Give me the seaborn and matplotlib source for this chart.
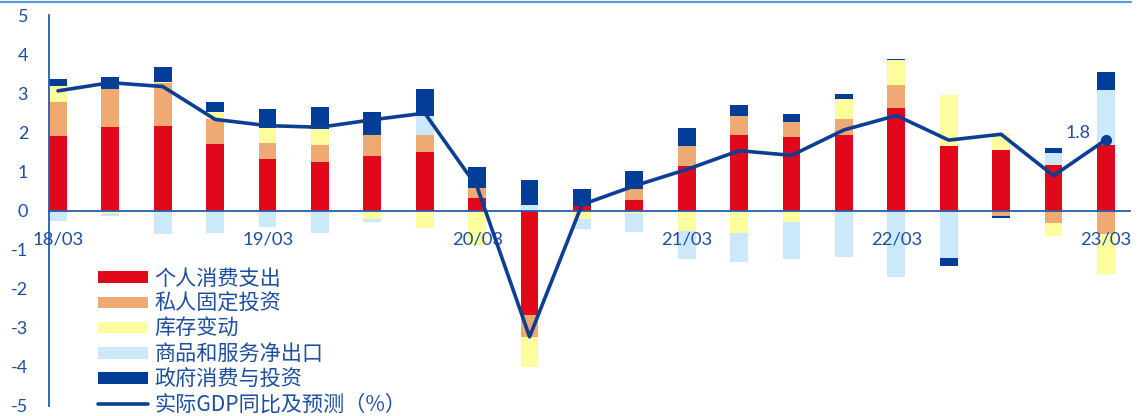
import numpy as np
import matplotlib
matplotlib.use("Agg")
import matplotlib.pyplot as plt
import matplotlib.transforms as mtransforms
from matplotlib.lines import Line2D
import seaborn as sns

# ---------------- data ----------------
quarters = ["18/03", "18/06", "18/09", "18/12", "19/03", "19/06", "19/09", "19/12",
            "20/03", "20/06", "20/09", "20/12", "21/03", "21/06", "21/09", "21/12",
            "22/03", "22/06", "22/09", "22/12", "23/03"]
consumption = [1.91, 2.14, 2.16, 1.70, 1.31, 1.25, 1.40, 1.49, 0.32, -2.68, 0.11,
               0.28, 1.13, 1.92, 1.88, 1.93, 2.62, 1.66, 1.54, 1.17, 1.67]
investment = [0.87, 0.97, 1.09, 0.63, 0.42, 0.43, 0.52, 0.44, 0.26, -0.55, 0.00,
              0.27, 0.51, 0.50, 0.38, 0.42, 0.59, -0.04, -0.14, -0.33, -0.60]
inventory = [0.40, -0.07, 0.04, 0.18, 0.39, 0.41, -0.22, -0.45, -0.87, -0.78, -0.23,
             -0.06, -0.53, -0.57, -0.30, 0.50, 0.64, 1.29, 0.43, -0.31, -1.03]
net_exports = [-0.26, -0.07, -0.60, -0.58, -0.41, -0.58, -0.08, 0.49, 0.00, 0.15, -0.24,
               -0.49, -0.72, -0.74, -0.93, -1.18, -1.70, -1.17, 0.00, 0.29, 1.40]
government = [0.19, 0.30, 0.38, 0.27, 0.48, 0.55, 0.59, 0.68, 0.54, 0.64, 0.43,
              0.45, 0.47, 0.28, 0.20, 0.13, 0.03, -0.20, -0.06, 0.15, 0.46]
gdp = [3.06, 3.27, 3.17, 2.33, 2.17, 2.13, 2.32, 2.49, 0.60, -3.23, 0.15,
       0.63, 1.05, 1.53, 1.41, 2.06, 2.43, 1.80, 1.95, 0.89, 1.81]

series_names = ["个人消费支出", "私人固定投资", "库存变动", "商品和服务净出口", "政府消费与投资"]
line_name = "实际GDP同比及预测（%）"
colors = ["#E0081A", "#EFA972", "#FDFD9E", "#CCE9FB", "#023D98"]
line_color = "#0B3F93"
text_color = "#1D4F9E"

# ---------------- style ----------------
sns.set_theme(style="white")
plt.rcParams["font.family"] = ["Lato", "Noto Sans CJK SC", "DejaVu Sans"]

fig = plt.figure(figsize=(11.43, 4.16), dpi=100)
W, H = 1143, 416
ax = fig.add_axes([49 / W, 10 / H, (1130 - 49) / W, (406 - 15) / H])
ax.set_axisbelow(False)

x = np.arange(len(quarters))
bar_w = 0.34
pos_base = np.zeros(len(x))
neg_base = np.zeros(len(x))
bar_handles = []
for vals, col, name in zip([consumption, investment, inventory, net_exports, government],
                           colors, series_names):
    v = np.array(vals, dtype=float)
    bottom = np.where(v >= 0, pos_base, neg_base)
    bc = ax.bar(x, v, width=bar_w, bottom=bottom, color=col, linewidth=0, label=name,
                zorder=0.8)
    bar_handles.append(bc)
    pos_base = pos_base + np.where(v >= 0, v, 0)
    neg_base = neg_base + np.where(v < 0, v, 0)

sns.lineplot(x=x, y=gdp, ax=ax, color=line_color, linewidth=2.6, label=line_name,
             zorder=3, legend=False)
ax.plot(x[-1:], gdp[-1:], marker="o", markersize=7, color=line_color, zorder=4)
ax.annotate(f"{gdp[-1]:.1f}", xy=(x[-1], gdp[-1]), xytext=(-20, 5),
            textcoords="offset points", ha="center", va="center",
            fontsize=13, color=text_color)

# ---------------- axes ----------------
ax.set_xlim(-0.172, 20.46)
ax.set_ylim(-5, 5)
for s in ["top", "right"]:
    ax.spines[s].set_visible(False)
ax.spines["bottom"].set_position(("data", 0))
ax.spines["bottom"].set_color("#2A5BAA")
ax.spines["left"].set_color("#2A5BAA")
ax.spines["bottom"].set_linewidth(1.3)
ax.spines["left"].set_linewidth(1.3)

ax.set_yticks(np.arange(-5, 6, 1))
ax.set_yticklabels([str(v) for v in range(-5, 6)])
ax.tick_params(axis="y", direction="in", length=4, width=1.2, color="#2A5BAA",
               labelsize=13, labelcolor=text_color, pad=15)

edges = x - bar_w / 2
major_idx = list(range(0, len(x), 4))
ax.set_xticks(edges[major_idx])
ax.set_xticklabels([quarters[i] for i in major_idx])
ax.set_xticks([edges[i] for i in range(len(x)) if i not in major_idx], minor=True)
ax.tick_params(axis="x", which="major", direction="inout", length=10, width=1.2,
               color="#2A5BAA", labelsize=13.3, labelcolor=text_color, pad=10)
ax.tick_params(axis="x", which="minor", direction="in", length=4, width=1.2,
               color="#2A5BAA")
offset = mtransforms.ScaledTranslation(9 / 100, 0, fig.dpi_scale_trans)
for lab in ax.get_xticklabels():
    lab.set_transform(lab.get_transform() + offset)

ax.set_xlabel("")
ax.set_ylabel("")

# ---------------- legend ----------------
line_handle = ax.get_lines()[0]
handles = bar_handles + [line_handle]
labels = series_names + [line_name]
leg = ax.legend(handles, labels, loc="lower left", bbox_to_anchor=(98 / W, 0 / H),
                bbox_transform=fig.transFigure, frameon=False, ncol=1,
                prop={"family": ["Noto Sans CJK SC", "DejaVu Sans"], "size": 15.2},
                handlelength=2.35, handleheight=0.47, handletextpad=0.33,
                labelspacing=0.155, borderpad=0, borderaxespad=0)
for t in leg.get_texts():
    t.set_color(text_color)

# top decorative rule
fig.add_artist(Line2D([0, 1131 / W], [1 - 2 / H, 1 - 2 / H], transform=fig.transFigure,
                      color="#5B9BD5", linewidth=1.6))

fig.savefig("out.png", dpi=100)
